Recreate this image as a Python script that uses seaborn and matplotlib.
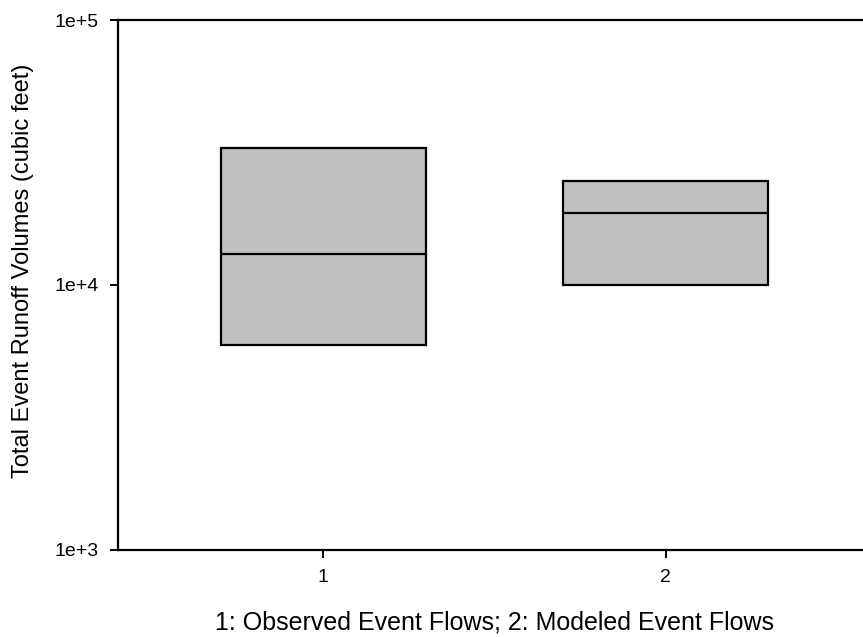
import numpy as np
import pandas as pd
import matplotlib
matplotlib.use("Agg")
import matplotlib.pyplot as plt
import seaborn as sns

# box statistics (cubic feet)
groups = ["1", "2"]
q1_vals = [5940, 10000]
median_vals = [13100, 18700]
q3_vals = [32900, 24700]

sns.set_theme(style="white")
plt.rcParams['font.family'] = ['Liberation Sans', 'DejaVu Sans']

# rebuild a tiny sample whose quartiles equal the read statistics
rows = []
for g, lo, med, hi in zip(groups, q1_vals, median_vals, q3_vals):
    for v in [lo, lo, med, hi, hi]:
        rows.append({'group': g, 'volume': v})
df = pd.DataFrame(rows)

fig = plt.figure(figsize=(8.63, 6.37), dpi=100)
ax = fig.add_axes([0.1367, 0.1366, 0.8725, 0.832])
ax.set_yscale('log')

sns.boxplot(
    data=df, x='group', y='volume', ax=ax,
    width=0.6, whis=(0, 100), showcaps=False, showfliers=False,
    color='#c0c0c0', saturation=1,
    boxprops=dict(edgecolor='black', linewidth=1.6),
    medianprops=dict(color='black', linewidth=1.6),
    whiskerprops=dict(color='black', linewidth=1.6),
)

ax.set_xlim(-0.6, 1.6)
ax.set_ylim(1e3, 1e5)
ax.set_yticks([1e3, 1e4, 1e5])
ax.set_yticklabels(['1e+3', '1e+4', '1e+5'])
ax.yaxis.set_minor_locator(matplotlib.ticker.NullLocator())

for side in ['left', 'bottom', 'top']:
    ax.spines[side].set_visible(True)
    ax.spines[side].set_color('black')
    ax.spines[side].set_linewidth(1.6)
ax.spines['right'].set_visible(False)

ax.tick_params(axis='both', which='major', direction='out', length=6,
               width=1.4, color='black', labelsize=14, labelcolor='black',
               left=True, bottom=True, pad=8)

ax.set_xlabel('1: Observed Event Flows; 2: Modeled Event Flows',
              fontsize=18, color='black')
ax.set_ylabel('Total Event Runoff Volumes (cubic feet)',
              fontsize=17, color='black')
ax.xaxis.set_label_coords(0.5, -0.114)
ax.yaxis.set_label_coords(-0.112, 0.526)

fig.savefig('out.png', dpi=100)
